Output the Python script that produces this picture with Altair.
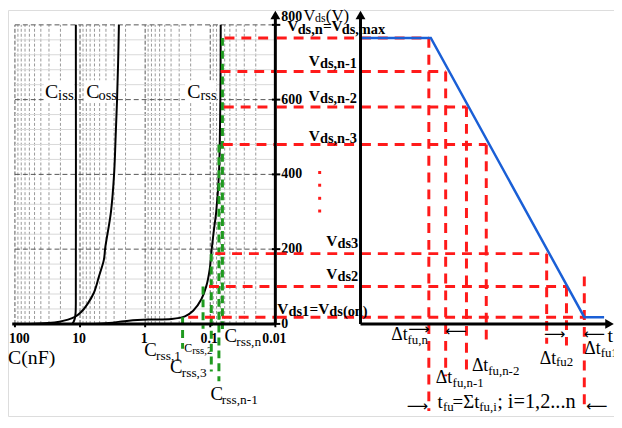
import altair as alt
import pandas as pd

# ------------------------------------------------------------------ data
# capacitance curves: drain-source voltage (V) -> capacitance (nF)
ciss_v = [800, 100, 30, 15, 5, 0]
ciss_c = [11.6, 11.6, 11.7, 12.0, 12.6, 13.2]
coss_v = [800, 700, 600, 500, 400, 300, 204, 172, 128, 84, 53, 31, 18, 6, 0]
coss_c = [2.53, 2.6, 2.7, 2.84, 3.0, 3.35, 4.1, 4.3, 5.1, 6.1, 7.7, 9.7, 12.2, 20.7, 59]
crss_v = [800, 600, 400, 300, 250, 200, 146, 101, 66, 35, 20, 13, 11.5, 8.5, 2.6, 0]
crss_c = [0.069, 0.070, 0.0736, 0.081, 0.088, 0.095, 0.102, 0.115, 0.137, 0.183,
          0.245, 0.395, 0.885, 1.78, 3.6, 6.1]

# voltage steps V_ds,n ... V_ds1 (V), where they leave the Crss curve (nF),
# and the time (a.u.) at which the falling Vds reaches them
v_levels = [765, 675, 580, 480, 188, 100, 18]
crss_start = [0.0603, 0.0694, 0.0618, 0.0640, 0.0838, 0.1045, 0.218]
t_level = [2.76, 3.44, 4.28, 5.08, 7.52, 8.32, 9.04]
drop_top = [765, 675, 580, 480, 188, 100, 127]
drop_bottom = [-233, -140, -132, -53, -53, -58, -233]

# Crss markers (green)
crss_mark_c = [0.065, 0.0736, 0.0964, 0.129, 0.266]
crss_mark_top = [765, 480, 188, 100, 18]
crss_mark_bottom = [-18.5, -153.6, -127.2, -13.2, -66.2]

# Vds(t) waveform
vds_t = [0, 2.84, 9.04, 9.84]
vds_v = [765, 765, 18, 18]

# axes
c_ticks = [100, 10, 1, 0.1, 0.01]
c_tick_labels = ["100", "10", "1", "0.1", "0.01"]
c_minor = [m * 10.0 ** k for k in (-2, -1, 0, 1) for m in range(2, 10)]
v_ticks = [0, 200, 400, 600, 800]
v_minor = [v for v in range(40, 800, 40) if v % 200 != 0]
dots_v = [405, 371, 336, 302]

# ------------------------------------------------------------------ scales
W, H = 612, 410
SERIF = "Liberation Serif"
RED = "#ff1a1a"
GREEN = "#1f9a1f"
BLUE = "#1a5fd6"

C_SCALE = alt.Scale(type="log", domain=[6.287e-8, 127.8], reverse=True, nice=False, zero=False)
T_SCALE = alt.Scale(type="linear", domain=[-14.24, 10.24], nice=False, zero=False)
V_SCALE = alt.Scale(type="linear", domain=[-246.36, 839.73], nice=False, zero=False)


def XC(f):
    return alt.X(f, type="quantitative", scale=C_SCALE, axis=None)


def XT(f):
    return alt.X(f, type="quantitative", scale=T_SCALE, axis=None)


def Y(f):
    return alt.Y(f, type="quantitative", scale=V_SCALE, axis=None)


def texts(df, xenc, bold=False, align="left", baseline="alphabetic", color="black", dx=0, dy=0,
          font=SERIF):
    return alt.Chart(df).mark_text(
        font=font, fontWeight="bold" if bold else "normal", align=align,
        baseline=baseline, color=color, dx=dx, dy=dy
    ).encode(x=xenc("x"), y=Y("y"), text="text:N",
             size=alt.Size("size:Q", scale=None, legend=None))


def T(rows):
    return pd.DataFrame(rows, columns=["text", "x", "y", "size"])


# ------------------------------------------------------------------ left panel (C, log)
vgrid_minor = alt.Chart(pd.DataFrame({"c": c_minor, "v0": 0, "v1": 800})).mark_rule(
    color="#8c8c8c", strokeWidth=0.9, strokeDash=[3, 2]).encode(x=XC("c"), y=Y("v0"), y2="v1")
vgrid_major = alt.Chart(pd.DataFrame({"c": c_ticks[:-1], "v0": 0, "v1": 800})).mark_rule(
    color="#555555", strokeWidth=1, strokeDash=[4, 2]).encode(x=XC("c"), y=Y("v0"), y2="v1")
hgrid_minor = alt.Chart(pd.DataFrame({"v": v_minor, "c0": 100, "c1": 0.01})).mark_rule(
    color="#d9d9d9", strokeWidth=1).encode(x=XC("c0"), x2="c1", y=Y("v"))
hgrid_major = alt.Chart(pd.DataFrame({"v": v_ticks[1:], "c0": 100, "c1": 0.01})).mark_rule(
    color="#555555", strokeWidth=1, strokeDash=[5, 3]).encode(x=XC("c0"), x2="c1", y=Y("v"))

boxes = alt.Chart(pd.DataFrame({
    "c0": [36.0, 8.6, 0.245], "c1": [12.4, 2.667, 0.0804],
    "v0": [593, 593, 593], "v1": [652, 652, 652]})).mark_rect(color="white").encode(
    x=XC("c0"), x2="c1", y=Y("v0"), y2="v1")

curve_df = pd.concat([
    pd.DataFrame({"name": "Ciss", "v": ciss_v, "c": ciss_c, "i": range(len(ciss_v))}),
    pd.DataFrame({"name": "Coss", "v": coss_v, "c": coss_c, "i": range(len(coss_v))}),
    pd.DataFrame({"name": "Crss", "v": crss_v, "c": crss_c, "i": range(len(crss_v))}),
])
curves = alt.Chart(curve_df).mark_line(color="black", strokeWidth=2, interpolate="catmull-rom").encode(
    x=XC("c"), y=Y("v"), detail="name:N", order="i:Q")

greens = alt.Chart(pd.DataFrame({"c": crss_mark_c, "top": crss_mark_top, "bottom": crss_mark_bottom})).mark_rule(
    color=GREEN, strokeWidth=3, strokeDash=[8, 5]).encode(x=XC("c"), y=Y("top"), y2="bottom")

red_left = alt.Chart(pd.DataFrame({"v": v_levels, "c0": crss_start, "c1": 0.01})).mark_rule(
    color=RED, strokeWidth=3, strokeDash=[10, 7]).encode(x=XC("c0"), x2="c1", y=Y("v"))

c_axis = alt.Chart(pd.DataFrame({"c0": [110], "c1": [0.01], "v": [0]})).mark_rule(
    color="black", strokeWidth=3).encode(x=XC("c0"), x2="c1", y=Y("v"))
c_tickmarks = alt.Chart(pd.DataFrame({"c": c_ticks, "v0": 0, "v1": -9})).mark_rule(
    color="black", strokeWidth=2).encode(x=XC("c"), y=Y("v0"), y2="v1")
c_labels = texts(T([(l, c, -50.3, 14) for l, c in zip(c_tick_labels[1:], c_ticks[1:])]), XC,
                 bold=True, align="center", dx=-1)
c_label_first = texts(T([(c_tick_labels[0], 127.8, -50.3, 14)]), XC, bold=True, dx=1)

v_axis = alt.Chart(pd.DataFrame({"c": [0.01], "v0": [0], "v1": [820]})).mark_rule(
    color="black", strokeWidth=3).encode(x=XC("c"), y=Y("v0"), y2="v1")
v_arrow = alt.Chart(pd.DataFrame({"c": [0.01], "v": [826.5]})).mark_point(
    shape="triangle-up", filled=True, size=100, color="black", opacity=1).encode(x=XC("c"), y=Y("v"))
v_tickmarks = alt.Chart(pd.DataFrame({"v": v_ticks, "c0": 0.0113, "c1": 0.0084})).mark_rule(
    color="black", strokeWidth=2).encode(x=XC("c0"), x2="c1", y=Y("v"))
v_labels = texts(T([(str(v), 0.0081, v, 14) for v in v_ticks[:-1]]), XC, bold=True, baseline="middle")
v_label_top = texts(T([(str(v_ticks[-1]), 0.0081, v_ticks[-1], 14)]), XC, bold=True, baseline="middle", dy=-8)

left_text = texts(T([
    ("C", 34.4, 604, 20), ("iss", 21.8, 600, 15),
    ("C", 8.03, 604, 20), ("oss", 5.19, 600, 14.5),
    ("C", 0.2258, 604, 20), ("rss", 0.1407, 600, 14.5),
    ("C(nF)", 127.8, -106, 20),
    ("C", 1.036, -84.8, 19), ("rss,1", 0.680, -95.4, 13.5),
    ("C", 0.2507, -74.2, 12), ("rss,2", 0.1895, -80.8, 11),
    ("C", 0.4137, -132.5, 19), ("rss,3", 0.2738, -141.7, 13.5),
    ("C", 0.0991, -202.6, 19), ("rss,n-1", 0.0663, -214.6, 13.5),
    ("C", 0.0603, -47.7, 19), ("rss,n", 0.0399, -58.3, 13.5),
]), XC)

left = alt.layer(vgrid_minor, vgrid_major, hgrid_minor, hgrid_major, boxes, left_text, curves,
                 greens, red_left, c_tickmarks, c_axis, c_labels, c_label_first,
                 v_tickmarks, v_axis, v_arrow, v_labels, v_label_top)

# ------------------------------------------------------------------ right panel (t, linear)
red_right = alt.Chart(pd.DataFrame({"v": v_levels, "t0": -3.38, "t1": t_level})).mark_rule(
    color=RED, strokeWidth=3, strokeDash=[10, 7]).encode(x=XT("t0"), x2="t1", y=Y("v"))
red_drops = alt.Chart(pd.DataFrame({"t": t_level, "top": drop_top, "bottom": drop_bottom})).mark_rule(
    color=RED, strokeWidth=3, strokeDash=[10, 7]).encode(x=XT("t"), y=Y("top"), y2="bottom")
blue = alt.Chart(pd.DataFrame({"t": vds_t, "v": vds_v, "i": range(len(vds_t))})).mark_line(
    color=BLUE, strokeWidth=2.5).encode(x=XT("t"), y=Y("v"), order="i:Q")
dots = alt.Chart(pd.DataFrame({"t": -1.65, "v": dots_v})).mark_square(
    color=RED, size=9, opacity=1).encode(x=XT("t"), y=Y("v"))

t_vaxis = alt.Chart(pd.DataFrame({"t": [0], "v0": [0], "v1": [820]})).mark_rule(
    color="black", strokeWidth=3).encode(x=XT("t"), y=Y("v0"), y2="v1")
t_varrow = alt.Chart(pd.DataFrame({"t": [0], "v": [826.5]})).mark_point(
    shape="triangle-up", filled=True, size=100, color="black", opacity=1).encode(x=XT("t"), y=Y("v"))
t_axis = alt.Chart(pd.DataFrame({"t0": [0], "t1": [10.0], "v": [0]})).mark_rule(
    color="black", strokeWidth=3).encode(x=XT("t0"), x2="t1", y=Y("v"))
t_arrow = alt.Chart(pd.DataFrame({"t": [10.06], "v": [0]})).mark_point(
    shape="triangle-right", filled=True, size=100, color="black", opacity=1).encode(x=XT("t"), y=Y("v"))

right_bold = texts(T([
    ("V", -2.96, 782.8, 15.5), ("ds,n", -2.54, 774.8, 14.5), ("=V", -1.52, 782.8, 15.5), ("ds,max", -0.76, 774.8, 14.5),
    ("V", -2.09, 688.7, 15.5), ("ds,n-1", -1.64, 683.4, 14.5),
    ("V", -2.09, 596, 15.5), ("ds,n-2", -1.64, 590.7, 14.5),
    ("V", -2.09, 490, 15.5), ("ds,n-3", -1.64, 484.8, 14.5),
    ("V", -1.38, 208, 15.5), ("ds3", -0.93, 202.6, 14.5),
    ("V", -1.38, 119.2, 15.5), ("ds2", -0.93, 113.9, 14.5),
    ("V", -3.36, 26.5, 15.5), ("ds1", -2.91, 21.2, 14.5), ("=V", -2.06, 26.5, 15.5), ("ds(on)", -1.26, 21.2, 14.5),
]), XT, bold=True)

right_normal = texts(T([
    ("V", -2.30, 810.6, 16.5), ("ds", -1.84, 808, 12), ("(V)", -1.40, 810.6, 17),
    ("Δt", 1.24, -43.7, 18), ("fu,n", 1.9, -53, 13),
    ("Δt", 3.04, -158.9, 18), ("fu,n-1", 3.72, -169.5, 13),
    ("Δt", 4.5, -127.2, 18), ("fu,n-2", 5.16, -137.7, 13),
    ("Δt", 7.24, -106, 18), ("fu2", 7.9, -113.9, 13),
    ("Δt", 9.04, -79.5, 18), ("fu1", 9.7, -87.4, 13),
    ("t", 9.98, -47.7, 20),
    ("t", 3.11, -225.2, 19), ("fu", 3.33, -233.1, 13), ("=Σt", 3.72, -225.2, 19),
    ("fu,i", 4.8, -233.1, 13), ("; i=1,2...n", 5.52, -225.2, 20.5),
]), XT)

arrows = texts(T([
    ("⟶", 2.36, -14.6, 15), ("⟵", 3.84, -19.9, 15), ("⟶", 7.84, -26.5, 15),
    ("⟵", 9.44, -26.5, 15), ("⟶", 2.3, -219.9, 15), ("⟵", 9.54, -219.9, 15),
]), XT, align="center", baseline="middle", font="DejaVu Sans")

right = alt.layer(red_right, red_drops, blue, dots, t_vaxis, t_varrow, t_axis, t_arrow,
                  right_bold, right_normal, arrows)

chart = alt.layer(left, right).resolve_scale(x="independent").properties(
    width=W, height=H, padding=0, autosize=alt.AutoSizeParams(type="none")
).configure_view(stroke=None).configure(background="white")

chart.save("out.html", embed_options={"renderer": "svg", "actions": False})
